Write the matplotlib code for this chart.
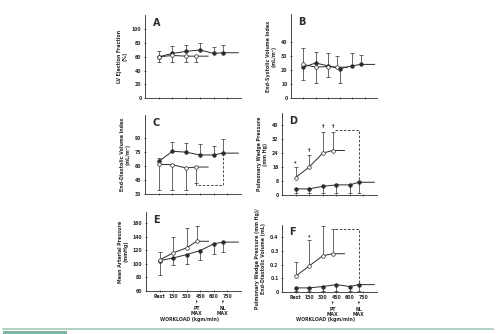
import matplotlib
matplotlib.use('Agg')
import matplotlib.pyplot as plt
from matplotlib.lines import Line2D
from matplotlib.patches import Rectangle

W, H = 500, 334
INK = '#2b2b2b'

# workload (kgm/min), Rest drawn at 0
x_ticks = [0, 150, 300, 450, 600, 750]
x_ticklabels = ['Rest', '150', '300', '450', '600', '750']
x_pt = [0, 150, 300, 410]             # open circles, last point = PT MAX
x_nl = [0, 150, 300, 450, 600, 700]   # filled circles, last point = NL MAX
pt_ext = 540
nl_ext = 870

# A  LV ejection fraction
a_pt = [60, 62, 61, 61]
a_pt_bar = [52, 53, 53, 53]
a_nl = [60, 65, 68, 70, 65, 66]
a_nl_bar = [68, 76, 77, 80, 75, 77]

# B  end-systolic volume index
b_pt = [24, 22, 22.5, 22]
b_pt_bar = [36, 11, 32, 30]
b_nl = [22, 25, 23, 21, 23, 24]
b_nl_bar = [13, 33, 15, 11, 32, 31]

# C  end-diastolic volume index
c_pt = [62, 61.5, 58, 59]
c_pt_bar = [34, 34, 34, 42]
c_nl = [65, 76, 75, 72, 72, 74]
c_nl_bar = [69, 86, 85, 84, 82, 89]
c_dash_x = [410, 410, 700, 700]
c_dash_y = [42, 40, 40, 74]

# D  pulmonary wedge pressure
d_pt = [10, 16, 24, 25.5]
d_pt_bar = [16, 23, 36, 36]
d_nl = [3.5, 3.5, 5, 5.8, 5.8, 7.3]
d_nl_bar = [1, 1, 1, 1, 1, 1]
d_dash_x = [440, 700, 700]
d_dash_y = [37, 37, 7.3]
d_sym_x = [0, 150, 300, 410]
d_sym_y = [18.5, 25.5, 39, 39]
d_sym = ['*', '†', '†', '†']

# E  mean arterial pressure
e_pt = [105.5, 116, 123.4, 133]
e_pt_bar = [118, 140, 152, 156]
e_nl = [104.6, 108.5, 113.5, 119.4, 129.3, 131.8]
e_nl_bar = [84, 98, 100, 105, 115, 118]

# F  wedge pressure / end-diastolic volume
f_pt = [0.115, 0.19, 0.265, 0.28]
f_pt_bar = [0.22, 0.38, 0.48, 0.46]
f_nl = [0.03, 0.03, 0.04, 0.054, 0.04, 0.054]
f_nl_bar = [0.01, 0.01, 0.01, 0.01, 0.01, 0.01]
f_dash_x = [440, 700, 700]
f_dash_y = [0.46, 0.46, 0.054]
f_sym_x = [150]
f_sym_y = [0.405]
f_sym = ['*']

fig = plt.figure(figsize=(W / 100, H / 100), dpi=100)
fig.patch.set_facecolor('white')


def make_axes(left, right, top, bottom):
    return fig.add_axes([left / W, 1 - bottom / H, (right - left) / W, (bottom - top) / H])


def draw_panel(ax, letter, pt, pt_bar, nl, nl_bar, ylim, yticks, yticklabels, ylabel, xlabels=False):
    ax.set_xlim(-150, 900)
    ax.set_ylim(*ylim)
    for s in ('top', 'right'):
        ax.spines[s].set_visible(False)
    for s in ('left', 'bottom'):
        ax.spines[s].set_linewidth(0.6)
        ax.spines[s].set_color(INK)
    for xs, vals, bars, ext, filled in ((x_nl, nl, nl_bar, nl_ext, True),
                                         (x_pt, pt, pt_bar, pt_ext, False)):
        ax.vlines(xs, vals, bars, color=INK, lw=0.5)
        ax.plot(xs, bars, '_', color=INK, ms=2.5, mew=0.5)
        ax.plot(list(xs) + [ext], list(vals) + [vals[-1]], color=INK, lw=0.7)
        ax.plot(xs, vals, 'o', ms=2.6, mfc=INK if filled else 'white', mec=INK, mew=0.5, zorder=3)
    ax.set_yticks(yticks)
    ax.set_yticklabels(yticklabels)
    ax.set_xticks(x_ticks)
    ax.set_xticklabels(x_ticklabels if xlabels else [])
    ax.tick_params(axis='both', direction='inout', length=2, width=0.5, color=INK,
                   labelsize=3.3, pad=1.5, labelcolor=INK)
    for lab in ax.get_xticklabels() + ax.get_yticklabels():
        lab.set_fontweight('bold')
    ax.set_ylabel(ylabel, fontsize=3.4, fontweight='bold', color=INK, labelpad=3, linespacing=1.2)
    ax.text(0.08, 0.9, letter, transform=ax.transAxes, fontsize=7, fontweight='bold', color=INK,
            ha='left', va='center')


def max_markers(ax, height_px):
    for xv, txt in ((x_pt[-1], 'PT\nMAX'), (x_nl[-1], 'NL\nMAX')):
        ax.annotate(txt, xy=(xv, -9 / height_px), xycoords=('data', 'axes fraction'),
                    xytext=(xv, -15 / height_px), textcoords=('data', 'axes fraction'),
                    ha='center', va='top', fontsize=3.3, fontweight='bold', color=INK,
                    linespacing=1.1, annotation_clip=False,
                    arrowprops=dict(arrowstyle='-|>', lw=0.4, color=INK,
                                    mutation_scale=2, shrinkA=0, shrinkB=0))


ax_a = make_axes(145, 241, 15, 98)
draw_panel(ax_a, 'A', a_pt, a_pt_bar, a_nl, a_nl_bar, (0, 121),
           [0, 20, 40, 60, 80, 100], ['0', '20', '40', '60', '80', '100'],
           'LV Ejection Fraction\n(%)')

ax_b = make_axes(291, 377, 14, 98)
draw_panel(ax_b, 'B', b_pt, b_pt_bar, b_nl, b_nl_bar, (0, 60),
           [0, 10, 20, 30, 40], ['0', '10', '20', '30', '40'],
           'End-Systolic Volume Index\n(mL/m²)')

ax_c = make_axes(145, 241, 115, 194)
draw_panel(ax_c, 'C', c_pt, c_pt_bar, c_nl, c_nl_bar, (30, 115),
           [30, 45, 60, 75, 90], ['30', '45', '60', '75', '90'],
           'End-Diastolic Volume Index\n(mL/m²)')
ax_c.plot(c_dash_x, c_dash_y, color=INK, lw=0.6, ls=(0, (3, 2)))

ax_d = make_axes(282, 377, 113, 195)
draw_panel(ax_d, 'D', d_pt, d_pt_bar, d_nl, d_nl_bar, (0, 47),
           [0, 8, 16, 24, 32, 40], ['0', '8', '16', '24', '32', '40'],
           'Pulmonary Wedge Pressure\n(mm Hg)')
ax_d.plot(d_dash_x, d_dash_y, color=INK, lw=0.6, ls=(0, (3, 2)))
for xv, yv, s in zip(d_sym_x, d_sym_y, d_sym):
    ax_d.text(xv, yv, s, ha='center', va='center', fontsize=3.5, fontweight='bold', color=INK)

ax_e = make_axes(146, 241, 212, 291)
draw_panel(ax_e, 'E', e_pt, e_pt_bar, e_nl, e_nl_bar, (60, 176),
           [60, 80, 100, 120, 140, 160], ['60', '80', '100', '120', '140', '160'],
           'Mean Arterial Pressure\n(mmHg)', xlabels=True)
max_markers(ax_e, 79)

ax_f = make_axes(282, 377, 225, 292)
draw_panel(ax_f, 'F', f_pt, f_pt_bar, f_nl, f_nl_bar, (0, 0.49),
           [0, 0.1, 0.2, 0.3, 0.4], ['0', '0.1', '0.2', '0.3', '0.4'],
           'Pulmonary Wedge Pressure (mm Hg)/\nEnd-Diastolic Volume (mL)', xlabels=True)
ax_f.plot(f_dash_x, f_dash_y, color=INK, lw=0.6, ls=(0, (3, 2)))
for xv, yv, s in zip(f_sym_x, f_sym_y, f_sym):
    ax_f.text(xv, yv, s, ha='center', va='center', fontsize=3.5, fontweight='bold', color=INK)
max_markers(ax_f, 67)

fig.text(190 / W, 1 - 320 / H, 'WORKLOAD (kgm/min)', ha='center', va='center',
         fontsize=3.3, fontweight='bold', color=INK)
fig.text(326 / W, 1 - 320 / H, 'WORKLOAD (kgm/min)', ha='center', va='center',
         fontsize=3.3, fontweight='bold', color=INK)

# page decoration at the bottom
fig.add_artist(Line2D([3 / W, 493 / W], [1 - 329 / H] * 2, color='#a3cbb6', lw=1.2))
fig.add_artist(Rectangle((3 / W, 0), 64 / W, 3 / H, color='#7db3a5', lw=0))

fig.savefig('out.png', dpi=100, facecolor='white')
